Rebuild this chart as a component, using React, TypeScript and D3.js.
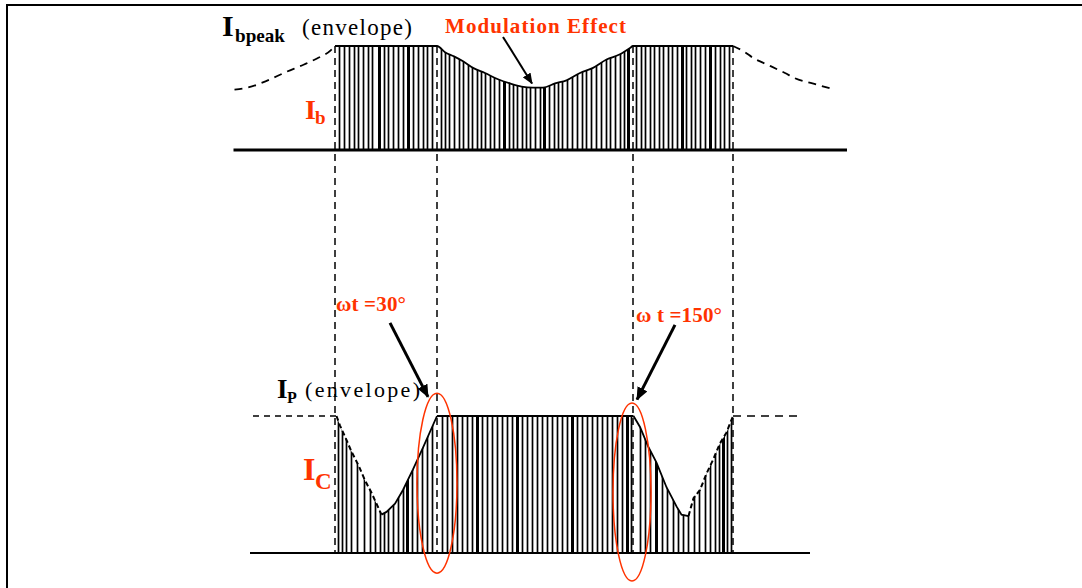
import React from 'react';
import * as d3 from 'd3';

const W = 1082;
const H = 588;
const RED = '#ff3300';
const SERIF = '"Liberation Serif", "Times New Roman", serif';

// Time axis in arbitrary units (one switching period is roughly 0.9 units).
// Phase boundaries: start, 30°, 150°, end of the conduction interval.
const phaseMarks = [20, 40.4, 79.6, 99.6];

// Base current pulses (upper trace): switching instants and the wider ones.
const basePulses = [
  20.7, 21.7, 22.7, 23.7, 24.5, 25.5, 26.5, 27.3, 28.7, 29.7, 30.5, 31.5, 32.5, 33.5, 34.5,
  35.5, 36.5, 37.5, 38.3, 39.3, 41.1, 42.0, 42.8, 43.8, 44.7, 45.5, 46.5, 47.3, 48.3, 49.1,
  50.0, 50.9, 51.8, 52.7, 53.7, 54.7, 55.5, 56.3, 57.3, 58.2, 59.0, 60.0, 60.9, 61.8, 62.7,
  63.7, 64.5, 65.3, 66.3, 67.3, 68.3, 69.3, 70.2, 71.1, 72.2, 73.1, 74.2, 75.0, 76.0, 76.9,
  77.8, 78.5, 80.2, 81.1, 82.0, 82.9, 83.8, 84.7, 85.5, 86.5, 87.3, 88.3, 89.3, 90.2, 91.1,
  92.0, 93.0, 94.0, 95.0, 96.0, 96.9, 97.8, 98.7,
];
const baseHeavy = [28.7, 34.5, 53.7, 61.8, 78.5, 89.3, 95.0];

// Collector current pulses (lower trace).
const collPulses = [
  20.6, 21.4, 22.2, 23.2, 24.4, 25.8, 27.0, 28.0, 29.0, 29.8, 30.6, 31.6, 32.6, 33.6, 34.4,
  35.4, 36.4, 37.4, 38.4, 39.4, 41.4, 42.4, 43.4, 44.4, 45.4, 46.4, 47.4, 48.4, 49.4, 50.4,
  51.4, 52.4, 53.4, 54.4, 55.4, 56.4, 57.4, 58.4, 59.4, 60.4, 61.4, 62.4, 63.4, 64.4, 65.4,
  66.4, 67.4, 68.4, 69.4, 70.4, 71.4, 72.4, 73.4, 74.4, 75.4, 76.4, 77.4, 78.4, 79.2, 81.0,
  82.0, 83.0, 84.2, 85.4, 86.4, 87.6, 88.6, 89.6, 90.6, 91.8, 92.8, 94.0, 95.0, 96.0, 96.8,
  97.6, 98.4, 99.2,
];
const collHeavy = [34.4, 48.4, 56.4, 67.4, 78.4, 84.2, 97.6];

// Ibpeak envelope (normalised): dashed outside the conduction interval.
const ibEnvLeft: [number, number][] = [
  [-0.1, 0.58], [2.5, 0.6], [6.1, 0.66], [10.2, 0.75], [13.7, 0.82], [16.4, 0.88], [19.2, 0.96], [20, 1],
];
const ibEnvMid: [number, number][] = [
  [20, 1], [40.4, 1], [42, 0.94], [43.8, 0.9], [45.7, 0.85], [47.6, 0.79], [50, 0.74], [52.6, 0.68],
  [55, 0.64], [57.3, 0.61], [59.6, 0.6], [61.6, 0.6], [64, 0.64], [66.3, 0.67], [69, 0.74],
  [71.6, 0.79], [74.3, 0.87], [77, 0.92], [79, 0.98], [79.6, 1], [99.6, 1],
];
const ibEnvRight: [number, number][] = [
  [99.6, 1], [101.7, 0.95], [103.8, 0.88], [106.5, 0.82], [110, 0.74], [112, 0.69], [115.5, 0.64], [120, 0.58],
];

// Ip envelope (normalised).
const ipRefLeft: [number, number][] = [[3.6, 1], [20.3, 1]];
const ipDipLeftDown: [number, number][] = [
  [20.3, 1], [21, 0.93], [22, 0.85], [23.3, 0.74], [24.7, 0.64], [26, 0.53], [27.3, 0.44], [28.3, 0.36], [29.3, 0.28],
];
const ipDipLeftUp: [number, number][] = [
  [29.3, 0.28], [30.3, 0.3], [32, 0.36], [33.6, 0.46], [35.6, 0.61], [37.6, 0.77], [40.4, 1],
];
const ipFlat: [number, number][] = [[40.4, 1], [79.7, 1]];
const ipDipRightDown: [number, number][] = [
  [79.7, 1], [81, 0.92], [82.6, 0.78], [84.3, 0.66], [86.3, 0.48], [88.3, 0.34], [89.3, 0.28], [90.7, 0.27],
];
const ipDipRightUp: [number, number][] = [
  [90.7, 0.27], [91.7, 0.4], [93, 0.46], [94.3, 0.58], [95.6, 0.68], [97, 0.8], [98.3, 0.88], [99.6, 1],
];
const ipRefRight: [number, number][] = [[99.6, 1], [113.4, 1]];

export default function App() {
  const x = d3.scaleLinear().domain([0, 120]).range([235, 835]);
  const yB = d3.scaleLinear().domain([0, 1]).range([150, 46]);
  const yC = d3.scaleLinear().domain([0, 1]).range([553, 416]);

  const lineB = d3.line<[number, number]>().x((d) => x(d[0])).y((d) => yB(d[1])).curve(d3.curveMonotoneX);
  const lineC = d3.line<[number, number]>().x((d) => x(d[0])).y((d) => yC(d[1]));
  const areaB = d3.area<[number, number]>().x((d) => x(d[0])).y0(yB(0)).y1((d) => yB(d[1])).curve(d3.curveMonotoneX);
  const ipAll = [
    ...ipDipLeftDown, ...ipDipLeftUp.slice(1), ...ipFlat.slice(1), ...ipDipRightDown.slice(1), ...ipDipRightUp.slice(1),
  ];
  const areaC = d3.area<[number, number]>().x((d) => x(d[0])).y0(yC(0)).y1((d) => yC(d[1]));

  // pulses sit on pixel centres so they stay dark
  const px = (t: number) => Math.round(x(t)) + 0.5;
  const pulse = (t: number, heavy: number[]) => (heavy.includes(t) ? 3 : 1.7);

  return (
    <svg width={W} height={H} style={{ position: 'fixed', left: 0, top: 0, background: '#fff' }}>
      <defs>
        <clipPath id="clipB">
          <path d={areaB(ibEnvMid) || ''} />
        </clipPath>
        <clipPath id="clipC">
          <path d={areaC(ipAll) || ''} />
        </clipPath>
        <marker id="headS" markerUnits="userSpaceOnUse" markerWidth={11} markerHeight={9} refX={10} refY={4.5} orient="auto">
          <path d="M0,0 L11,4.5 L0,9 z" fill="#000" />
        </marker>
        <marker id="headL" markerUnits="userSpaceOnUse" markerWidth={13} markerHeight={11} refX={12} refY={5.5} orient="auto">
          <path d="M0,0 L13,5.5 L0,11 z" fill="#000" />
        </marker>
      </defs>

      {/* frame */}
      <path d={`M7,${H} V5 H${W}`} fill="none" stroke="#000" strokeWidth={2} />

      {/* ---- base current trace ---- */}
      <g clipPath="url(#clipB)">
        {basePulses.map((t) => (
          <line key={`b${t}`} x1={px(t)} x2={px(t)} y1={yB(0)} y2={yB(1.1)} stroke="#000" strokeWidth={pulse(t, baseHeavy)} />
        ))}
      </g>
      <path d={lineB(ibEnvMid) || ''} fill="none" stroke="#000" strokeWidth={1.8} />
      <path d={lineB(ibEnvLeft) || ''} fill="none" stroke="#000" strokeWidth={1.8} strokeDasharray="8,6" />
      <path d={lineB(ibEnvRight) || ''} fill="none" stroke="#000" strokeWidth={1.8} strokeDasharray="8,6" />
      <line x1={x(-0.3)} x2={x(122.4)} y1={yB(0)} y2={yB(0)} stroke="#000" strokeWidth={3} />

      {/* ---- collector current trace ---- */}
      <g clipPath="url(#clipC)">
        {collPulses.map((t) => (
          <line key={`c${t}`} x1={px(t)} x2={px(t)} y1={yC(0)} y2={yC(1.1)} stroke="#000" strokeWidth={pulse(t, collHeavy)} />
        ))}
      </g>
      <path d={lineC(ipFlat) || ''} fill="none" stroke="#000" strokeWidth={1.8} />
      <path d={lineC(ipDipLeftUp) || ''} fill="none" stroke="#000" strokeWidth={1.8} />
      <path d={lineC(ipDipRightDown) || ''} fill="none" stroke="#000" strokeWidth={1.8} />
      <path d={lineC(ipDipLeftDown) || ''} fill="none" stroke="#000" strokeWidth={2} strokeDasharray="5,3" />
      <path d={lineC(ipDipRightUp) || ''} fill="none" stroke="#000" strokeWidth={2} strokeDasharray="5,3" />
      <path d={lineC(ipRefLeft) || ''} fill="none" stroke="#000" strokeWidth={1.5} strokeDasharray="6,5" />
      <path d={lineC(ipRefRight) || ''} fill="none" stroke="#000" strokeWidth={1.5} strokeDasharray="8,6" />
      <line x1={x(3)} x2={x(115)} y1={yC(0)} y2={yC(0)} stroke="#000" strokeWidth={2} />

      {/* phase boundaries */}
      {phaseMarks.map((t) => (
        <line key={`m${t}`} x1={x(t)} x2={x(t)} y1={yB(1)} y2={yC(0)} stroke="#000" strokeWidth={1.5} strokeDasharray="7,5" />
      ))}

      {/* 30° / 150° markers */}
      <ellipse cx={x(40.4)} cy={yC(0.51)} rx={20} ry={90} fill="none" stroke={RED} strokeWidth={1.5} />
      <ellipse cx={x(79.4)} cy={yC(0.445)} rx={19} ry={89} fill="none" stroke={RED} strokeWidth={1.5} />
      <line x1={x(31)} y1={yC(1.68)} x2={x(38.6)} y2={yC(1.14)} stroke="#000" strokeWidth={3} markerEnd="url(#headL)" />
      <line x1={x(88)} y1={yC(1.665)} x2={x(80.4)} y2={yC(1.12)} stroke="#000" strokeWidth={3} markerEnd="url(#headL)" />
      <line x1={x(53.6)} y1={yB(1.087)} x2={x(59.4)} y2={yB(0.64)} stroke="#000" strokeWidth={2} markerEnd="url(#headS)" />

      {/* labels */}
      <g fontFamily={SERIF}>
        <text x={222} y={36} fontSize={30} fontWeight="bold">I</text>
        <text x={235} y={42} fontSize={19} fontWeight="bold" textLength={50} lengthAdjust="spacingAndGlyphs">bpeak</text>
        <text x={302} y={35} fontSize={23} textLength={110}>(envelope)</text>
        <text x={445} y={33} fontSize={21} fontWeight="bold" fill={RED} textLength={181}>Modulation Effect</text>
        <text x={305} y={119} fontSize={28} fontWeight="bold" fill={RED}>I</text>
        <text x={315} y={124} fontSize={19} fontWeight="bold" fill={RED}>b</text>

        <text x={336} y={311} fontSize={21} fontWeight="bold" fill={RED} textLength={70}>ωt =30°</text>
        <text x={636} y={322} fontSize={21} fontWeight="bold" fill={RED} textLength={86}>ω t =150°</text>

        <text x={277} y={398} fontSize={27} fontWeight="bold">I</text>
        <text x={287} y={403} fontSize={16} fontWeight="bold">P</text>
        <text x={305} y={397} fontSize={22} textLength={115}>(envelope)</text>

        <text x={303} y={480} fontSize={32} fontWeight="bold" fill={RED}>I</text>
        <text x={315} y={489} fontSize={23} fontWeight="bold" fill={RED}>C</text>
      </g>
    </svg>
  );
}
